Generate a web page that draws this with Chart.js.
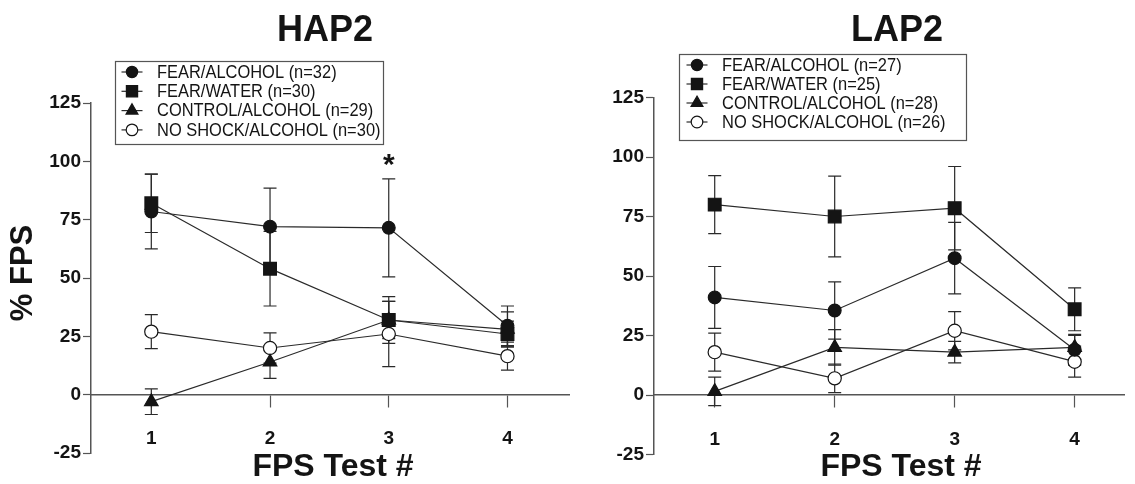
<!DOCTYPE html>
<html><head><meta charset="utf-8">
<script src="https://cdn.jsdelivr.net/npm/chart.js@4/dist/chart.umd.min.js"></script>
<style>
html,body{margin:0;padding:0;background:#fff;overflow:hidden}
#wrap{position:relative;width:1135px;height:484px;background:#fff}
#c1{position:absolute;left:0;top:0}
#c2{position:absolute;left:580px;top:0}
</style></head><body>
<div id="wrap"><canvas id="c1" width="580" height="484"></canvas><canvas id="c2" width="555" height="484"></canvas></div>
<script>
// ---------- data ----------
const testNums = [1, 2, 3, 4];
const yTickValues = [-25, 0, 25, 50, 75, 100, 125];
const groupNames = ['FEAR/ALCOHOL', 'FEAR/WATER', 'CONTROL/ALCOHOL', 'NO SHOCK/ALCOHOL'];

const hapN = [32, 30, 29, 30];
const hapFearAlcohol = [78.5, 72, 71.5, 29.5];
const hapFearAlcoholErr = [16, 16.5, 21, 8.5];
const hapFearWater = [82, 54, 32, 26];
const hapFearWaterErr = [12.5, 16, 10, 5.5];
const hapControlAlcohol = [-3, 14, 32, 28];
const hapControlAlcoholErr = [5.5, 7, 8, 7.5];
const hapNoShockAlcohol = [27, 20, 26, 16.5];
const hapNoShockAlcoholErr = [7.3, 6.5, 14, 6];
const hapSignificant = [3];

const lapN = [27, 25, 28, 26];
const lapFearAlcohol = [41, 35.5, 57.5, 19];
const lapFearAlcoholErr = [13, 12, 15, 6.5];
const lapFearWater = [80, 75, 78.5, 36];
const lapFearWaterErr = [12.2, 17, 17.5, 9];
const lapControlAlcohol = [1.5, 20, 18, 20];
const lapControlAlcoholErr = [6, 7.5, 4.5, 5];
const lapNoShockAlcohol = [18, 7, 27, 14];
const lapNoShockAlcoholErr = [8, 6, 8, 6.5];
const lapSignificant = [];

// ---------- styling ----------
const FONT = '"Liberation Sans", Arial, Helvetica, sans-serif';
const INK = '#141414';
const LINE = '#2a2a2a';
const AXIS = '#555555';
Chart.defaults.font.family = FONT;
Chart.defaults.color = INK;

const markerStyles = [
  {pointStyle: 'circle', radius: 6.4, fill: INK},
  {pointStyle: 'rect', radius: 9, fill: INK},
  {pointStyle: 'triangle', radius: 7.8, fill: INK},
  {pointStyle: 'circle', radius: 6.6, fill: '#ffffff'}
];
const drawOrder = [1, 0, 2, 3];

function makeChart(canvas, p) {
  const datasets = p.values.map((vals, i) => ({
    label: groupNames[i] + ' (n=' + p.n[i] + ')',
    data: testNums.map((t, j) => ({x: t, y: vals[j]})),
    errors: p.errors[i],
    borderColor: LINE,
    borderWidth: 1.2,
    pointStyle: markerStyles[i].pointStyle,
    pointRadius: markerStyles[i].radius,
    pointBackgroundColor: markerStyles[i].fill,
    pointBorderColor: INK,
    pointBorderWidth: 1.2,
    fill: false,
    tension: 0,
    order: drawOrder[i],
    clip: false
  }));

  const errorBars = {
    id: 'errorBars',
    beforeDatasetsDraw(chart) {
      const ctx = chart.ctx, xs = chart.scales.x, ys = chart.scales.y;
      ctx.save();
      ctx.strokeStyle = LINE;
      ctx.lineWidth = 1.2;
      chart.data.datasets.forEach(ds => {
        ds.data.forEach((pt, j) => {
          const e = ds.errors[j];
          const x = xs.getPixelForValue(pt.x);
          const y1 = ys.getPixelForValue(pt.y + e);
          const y2 = ys.getPixelForValue(pt.y - e);
          ctx.beginPath();
          ctx.moveTo(x, y1); ctx.lineTo(x, y2);
          ctx.moveTo(x - 6.5, y1); ctx.lineTo(x + 6.5, y1);
          ctx.moveTo(x - 6.5, y2); ctx.lineTo(x + 6.5, y2);
          ctx.stroke();
        });
      });
      ctx.restore();
    }
  };

  const decor = {
    id: 'decor',
    afterDraw(chart) {
      const ctx = chart.ctx, xs = chart.scales.x, ys = chart.scales.y;
      ctx.save();
      ctx.fillStyle = INK;
      ctx.textAlign = 'center';
      ctx.textBaseline = 'middle';
      // panel title
      ctx.font = 'bold 36px ' + FONT;
      ctx.fillText(p.title, p.titleX, 31);
      // x title
      ctx.font = 'bold 32px ' + FONT;
      ctx.fillText('FPS Test #', p.xTitleX, 467);
      // y title
      if (p.yTitle) {
        ctx.save();
        ctx.translate(23, 273);
        ctx.rotate(-Math.PI / 2);
        ctx.font = 'bold 31px ' + FONT;
        ctx.fillText(p.yTitle, 0, 0);
        ctx.restore();
      }
      // significance marks
      ctx.font = 'bold 30px ' + FONT;
      p.stars.forEach(t => {
        const j = testNums.indexOf(t);
        let top = -Infinity;
        chart.data.datasets.forEach(ds => { top = Math.max(top, ds.data[j].y + ds.errors[j]); });
        ctx.fillText('*', xs.getPixelForValue(t), ys.getPixelForValue(top) - 13);
      });
      // legend
      const L = p.legend;
      ctx.strokeStyle = AXIS;
      ctx.lineWidth = 1.2;
      ctx.strokeRect(L.x0 + 0.5, L.y0 + 0.5, L.x1 - L.x0, L.y1 - L.y0);
      chart.data.datasets.forEach((ds, i) => {
        const cy = L.row0 + i * L.step;
        ctx.strokeStyle = LINE;
        ctx.lineWidth = 1.2;
        ctx.beginPath();
        ctx.moveTo(L.sx - 10.5, cy); ctx.lineTo(L.sx + 10.5, cy);
        ctx.stroke();
        ctx.fillStyle = markerStyles[i].fill;
        ctx.strokeStyle = INK;
        Chart.helpers.drawPoint(ctx, {
          pointStyle: markerStyles[i].pointStyle,
          radius: markerStyles[i].radius * 0.88,
          rotation: 0,
          borderWidth: 1.2
        }, L.sx, cy);
        ctx.fillStyle = INK;
        ctx.textAlign = 'left';
        ctx.font = '17.7px ' + FONT;
        ctx.save();
        ctx.translate(L.tx, cy + 1);
        ctx.scale(0.93, 1);
        ctx.fillText(ds.label, 0, 0);
        ctx.restore();
      });
      ctx.restore();
    }
  };

  return new Chart(canvas, {
    type: 'line',
    data: {datasets},
    options: {
      responsive: false,
      animation: false,
      events: [],
      layout: {padding: {left: 0, right: p.padRight, top: p.padTop, bottom: p.padBottom}},
      plugins: {legend: {display: false}, tooltip: {enabled: false}, title: {display: false}},
      scales: {
        x: {
          type: 'linear',
          position: {y: 0},
          min: p.xMin,
          max: p.xMax,
          afterBuildTicks(scale) { scale.ticks = testNums.map(v => ({value: v})); },
          grid: {drawOnChartArea: false, drawTicks: true, tickLength: 12, tickColor: AXIS, tickWidth: 1.2},
          border: {display: true, color: AXIS, width: 1.5},
          ticks: {padding: 21, color: INK, font: {size: 19, weight: 'bold'}, callback: v => String(v)}
        },
        y: {
          type: 'linear',
          position: 'left',
          min: -25,
          max: 125,
          afterBuildTicks(scale) { scale.ticks = yTickValues.map(v => ({value: v})); },
          afterFit(scale) { scale.width = p.yAxisX; },
          grid: {drawOnChartArea: false, drawTicks: true, tickLength: 8, tickColor: AXIS, tickWidth: 1.2},
          border: {display: true, color: AXIS, width: 1.5},
          ticks: {padding: 2, color: INK, font: {size: 19, weight: 'bold'}, callback: v => String(v)}
        }
      }
    },
    plugins: [errorBars, decor]
  });
}

makeChart(document.getElementById('c1'), {
  title: 'HAP2', titleX: 325, xTitleX: 333, yTitle: '% FPS',
  values: [hapFearAlcohol, hapFearWater, hapControlAlcohol, hapNoShockAlcohol],
  errors: [hapFearAlcoholErr, hapFearWaterErr, hapControlAlcoholErr, hapNoShockAlcoholErr],
  n: hapN, stars: hapSignificant,
  xMin: 0.492, xMax: 4.525, yAxisX: 91, padRight: 5, padTop: 103, padBottom: 31,
  legend: {x0: 115, y0: 61, x1: 383, y1: 144, row0: 72, step: 19.3, sx: 132, tx: 157}
});

makeChart(document.getElementById('c2'), {
  title: 'LAP2', titleX: 317, xTitleX: 321, yTitle: null,
  values: [lapFearAlcohol, lapFearWater, lapControlAlcohol, lapNoShockAlcohol],
  errors: [lapFearAlcoholErr, lapFearWaterErr, lapControlAlcoholErr, lapNoShockAlcoholErr],
  n: lapN, stars: lapSignificant,
  xMin: 0.494, xMax: 4.418, yAxisX: 74, padRight: 0, padTop: 97.5, padBottom: 29.5,
  legend: {x0: 99, y0: 54, x1: 386, y1: 140, row0: 65, step: 19, sx: 117, tx: 142}
});
</script>
</body></html>
